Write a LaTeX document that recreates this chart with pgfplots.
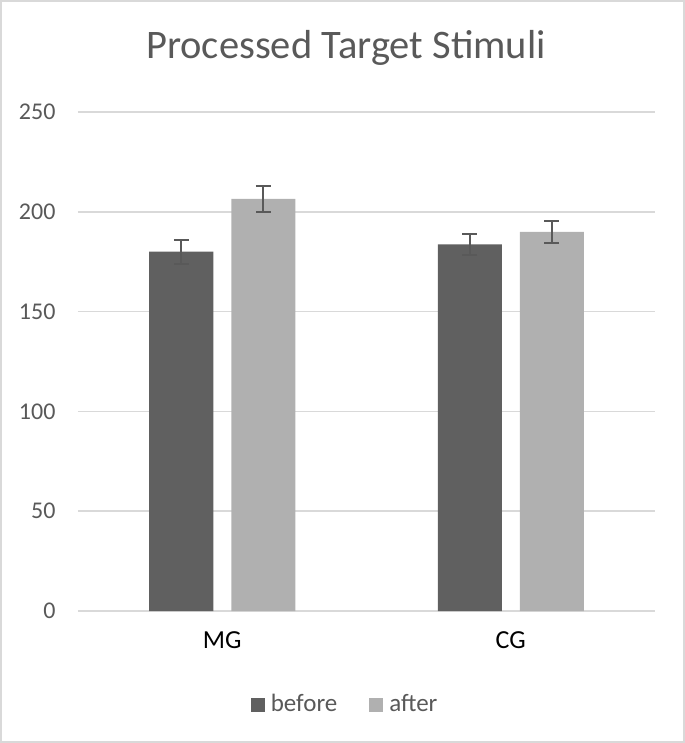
\documentclass[border=0pt]{standalone}
\usepackage{pgfplots}
\pgfplotsset{compat=1.18}
\usepackage{fontspec}
\setmainfont{Carlito}
\definecolor{cbefore}{RGB}{96,96,96}
\definecolor{cafter}{RGB}{176,176,176}
\definecolor{ctext}{RGB}{89,89,89}
\definecolor{cgrid}{RGB}{217,217,217}
\begin{document}
\begin{tikzpicture}
\begin{axis}[
  name=ax,
  scale only axis,
  width=577bp, height=499bp,
  xmin=-0.5, xmax=1.5, ymin=0, ymax=250,
  xtick={0,1}, xticklabels={MG,CG},
  ytick={0,50,100,150,200,250},
  axis line style={draw=none},
  major tick length=0pt,
  ymajorgrids, grid style={cgrid, line width=1.6bp},
  yticklabel style={font=\fontsize{24bp}{24bp}\selectfont, text=ctext, xshift=-19bp},
  xticklabel style={font=\fontsize{26bp}{26bp}\selectfont, text=black, yshift=-17bp},
  /pgf/number format/assume math mode=true,
  ybar, bar width=64bp,
  legend columns=2,
  legend style={at={(0.463,-0.186)}, anchor=center, draw=none, fill=none,
    font=\fontsize{25bp}{25bp}\selectfont, text=ctext,
    /tikz/every even column/.append style={column sep=30bp}},
  legend image code/.code={\fill[#1] (0bp,-8bp) rectangle (14bp,6bp); \path (18bp,0bp);},
  error bars/error bar style={ctext, line width=2bp},
  error bars/error mark options={rotate=90, ctext, mark size=7.3bp, line width=2bp},
]
\addplot[fill=cbefore, draw=none, bar shift=-41bp,
  error bars/.cd, y dir=both, y explicit]
  coordinates {(0,180) +- (0,6) (1,183.7) +- (0,5.4)};
\addplot[fill=cafter, draw=none, bar shift=41bp,
  error bars/.cd, y dir=both, y explicit]
  coordinates {(0,206.5) +- (0,6.5) (1,190) +- (0,5.4)};
\legend{before,after}
\end{axis}
\draw[cgrid, line width=2bp] ([shift={(-77bp,-131bp)}]ax.south west) rectangle ([shift={(606bp,610bp)}]ax.south west);
\node[text=ctext, font=\fontsize{40.5bp}{40.5bp}\selectfont] at ([shift={(268bp,563bp)}]ax.south west) {Processed Target Stimuli};
\end{tikzpicture}
\end{document}
